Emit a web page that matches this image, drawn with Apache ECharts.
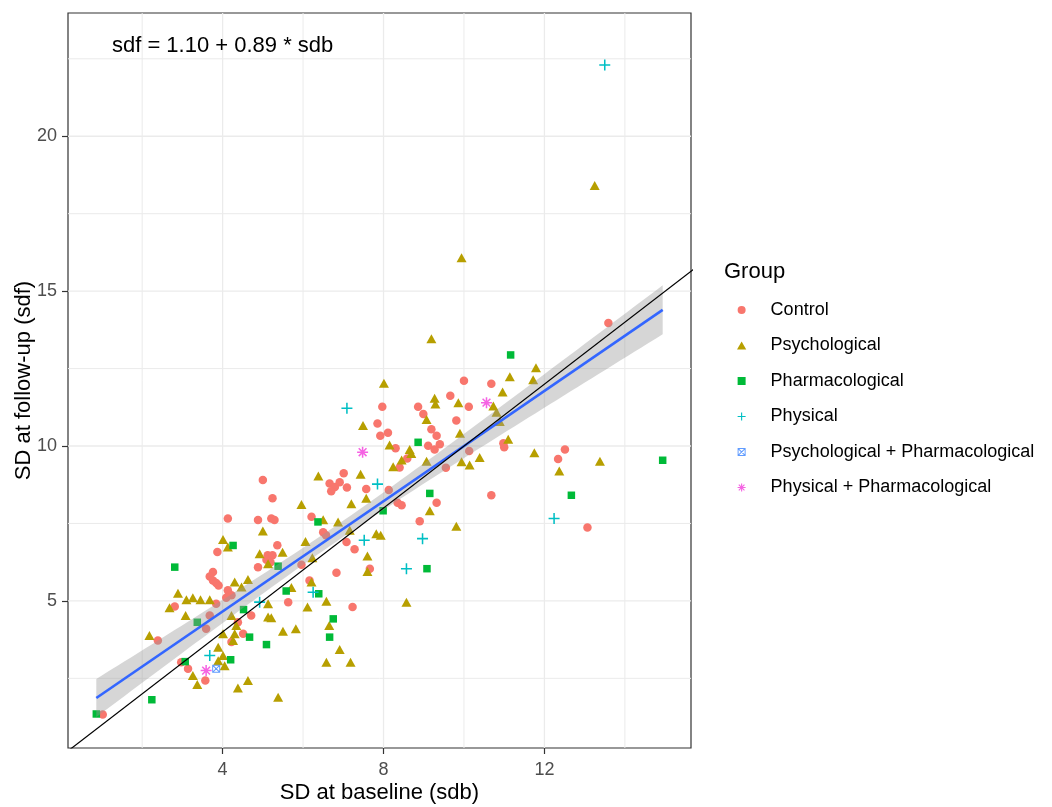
<!DOCTYPE html>
<html>
<head>
<meta charset="utf-8">
<style>
  html, body { margin: 0; padding: 0; background: #fff; }
  #chart { width: 1052px; height: 807px; }
</style>
<script src="https://cdn.jsdelivr.net/npm/echarts@6/dist/echarts.min.js"></script>
</head>
<body>
<div id="chart"></div>
<script>
// Each point: [SD at baseline (sdb), SD at follow-up (sdf)], one array per intervention group
const control = [
  [4.13,7.66],[4.88,7.61],[5.21,7.66],[5.29,7.61],[3.87,6.58],[4.88,6.09],
  [5.12,6.47],[5.24,6.47],[5.09,6.33],[5.19,6.25],
  [3.76,5.93],[3.68,5.79],[3.76,5.66],[3.84,5.58],[3.90,5.50],
  [4.13,5.34],[4.22,5.18],[4.09,5.10],
  [2.81,4.82],[3.84,4.91],[3.68,4.53],[3.59,4.10],[4.38,4.31],[4.71,4.53],[4.51,3.94],
  [4.22,3.67],[2.39,3.72],[2.97,3.02],[3.14,2.81],[3.57,2.43],[1.02,1.33],
  [5.24,8.31],[5.00,8.90],[5.36,6.80],[5.96,6.17],[6.21,7.72],
  [6.50,7.22],[6.57,7.12],
  [6.83,5.91],[7.08,6.90],[7.28,6.67],[7.66,6.04],[6.16,5.66],[5.63,4.96],[7.23,4.80],
  [8.35,8.17],[8.45,8.09],
  [8.90,7.57],[9.32,8.17],[10.00,12.11],[9.66,11.62],[10.12,11.27],[7.97,11.27],[8.86,11.27],
  [8.99,11.03],[7.85,10.73],[9.81,10.82],
  [7.92,10.33],[8.11,10.43],[9.19,10.54],[9.32,10.33],[9.40,10.06],[9.27,9.89],
  [9.11,10.01],[8.30,9.93],[8.59,9.60],[8.40,9.31],[10.13,9.84],[9.55,9.30],[7.01,9.12],
  [6.66,8.79],[6.79,8.68],[6.91,8.83],[6.70,8.54],
  [7.09,8.66],[7.57,8.61],[8.13,8.58],[13.59,13.97],[10.68,12.01],
  [10.98,10.09],[11.00,9.96],[12.51,9.89],[12.34,9.58],
  [10.68,8.41],[13.07,7.37]
];
const psychological = [
  [5.00,7.26],[4.01,6.98],[4.13,6.74],[4.92,6.52],[5.13,6.20],[4.30,5.61],[4.63,5.69],
  [4.47,5.45],[2.89,5.25],
  [3.10,5.04],[3.26,5.10],[3.45,5.04],[3.68,5.04],
  [2.68,4.78],[3.08,4.53],[5.13,4.91],[5.13,4.48],[5.21,4.46],[4.22,4.53],[4.34,4.21],
  [4.01,3.94],[4.30,3.94],[4.26,3.72],[2.18,3.88],[3.89,3.50],[4.01,3.24],[3.89,3.07],
  [4.05,2.91],[3.26,2.59],[3.37,2.30],[4.63,2.43],[4.38,2.19],[5.38,1.89],
  [5.96,8.11],[6.38,9.03],[6.50,7.62],[6.87,7.55],[5.49,6.57],[6.06,6.92],[6.23,6.39],
  [7.20,8.14],[7.16,7.28],[7.60,6.45],[7.60,5.95],[7.82,7.17],[7.93,7.12],[9.15,7.91],
  [9.81,7.41],
  [5.71,5.43],[6.21,5.61],[6.58,4.99],[6.11,4.80],[8.57,4.96],[5.50,4.02],[5.82,4.10],
  [6.65,4.21],[6.91,3.43],[6.58,3.02],[7.18,3.02],
  [9.19,13.46],[8.01,12.03],[9.27,11.54],[9.29,11.36],[9.86,11.40],[7.49,10.66],
  [9.07,10.86],[9.90,10.41],[8.15,10.03],[8.65,9.89],[8.69,9.76],[8.45,9.55],[8.24,9.33],
  [9.07,9.51],[9.94,9.49],[10.14,9.39],[10.39,9.63],[7.43,9.09],[7.57,8.31],
  [11.79,12.53],[11.72,12.14],[11.14,12.24],[10.96,11.74],[10.73,11.29],[10.81,11.09],
  [10.89,10.79],[11.10,10.22],[11.75,9.78],[12.37,9.19],[13.38,9.51],
  [9.94,16.08],[13.25,18.41]
];
const pharmacological = [
  [4.26,6.79],[2.81,6.09],[5.38,6.12],[4.52,4.72],[3.37,4.31],[4.67,3.83],[5.09,3.59],
  [3.07,3.04],[4.20,3.10],[2.24,1.81],[0.86,1.35],
  [6.37,7.55],[7.99,7.91],[5.58,5.32],[6.39,5.23],[6.75,4.42],[6.66,3.83],[9.08,6.04],
  [8.86,10.12],[9.15,8.47],[11.16,12.94],[12.67,8.41],[14.94,9.54]
];
const physical = [
  [13.50,22.30],[7.09,11.22],[7.85,8.77],[7.52,6.96],[8.97,7.01],[8.57,6.04],
  [6.25,5.28],[4.92,4.96],[3.68,3.24],[12.24,7.66]
];
const psychPharm = [[3.84,2.81]];
const physPharm = [[3.59,2.75],[7.48,9.80],[10.56,11.40]];

const groupNames = [
  'Control', 'Psychological', 'Pharmacological', 'Physical',
  'Psychological + Pharmacological', 'Physical + Pharmacological'
];
const groupData = [control, psychological, pharmacological, physical, psychPharm, physPharm];

// Axis ticks and grid lines
const xTickValues = [4, 8, 12];
const xMinorGrid = [2, 6, 10, 14];
const yTickValues = [5, 10, 15, 20];
const yMinorGrid = [2.5, 7.5, 12.5, 17.5, 22.5];

// Fitted regression: sdf = intercept + slope * sdb
const fitIntercept = 1.10;
const fitSlope = 0.89;
const annotationAt = [4, 22.9];

// ---------- styling ----------
const FONT = 'Liberation Sans, Arial, sans-serif';
const groupColors = ['#F8766D', '#B79F00', '#00BA38', '#00BFC4', '#619CFF', '#F564E3'];
const TRI = 'path://M50,0L100,86.6L0,86.6Z';
const SQUARE = 'path://M0,0H100V100H0Z';
const PLUS = 'path://M43,0H57V43H100V57H57V100H43V57H0V43H43Z';
const SQX = 'path://M0,0H100V100H0Z M12,12V88H88V12Z ' +
  'M0,0L8.5,0L100,91.5L100,100L91.5,100L0,8.5Z ' +
  'M100,0L100,8.5L8.5,100L0,100L0,91.5L91.5,0Z';
const AST = 'path://M43,0H57V43H100V57H57V100H43V57H0V43H43Z ' +
  'M19.59,9.69L90.31,80.41L80.41,90.31L9.69,19.59Z ' +
  'M80.41,9.69L90.31,19.59L19.59,90.31L9.69,80.41Z';
const groupSymbols = ['circle', TRI, SQUARE, PLUS, SQX, AST];
const groupSizes = [8.5, [10, 9], 7.5, 11, 8, 11];

// ---------- ranges (data range plus 5% padding on each side) ----------
const allPts = [].concat(...groupData);
const xs = allPts.map(p => p[0]);
const ys = allPts.map(p => p[1]);
const xLo = Math.min(...xs), xHi = Math.max(...xs);
const yLo = Math.min(...ys), yHi = Math.max(Math.max(...ys), annotationAt[1]);
const xPad = (xHi - xLo) * 0.05, yPad = (yHi - yLo) * 0.05;
const X_MIN = xLo - xPad, X_MAX = xHi + xPad;
const Y_MIN = yLo - yPad, Y_MAX = yHi + yPad;

// ---------- 95% confidence band of the fitted mean ----------
const fit = x => fitIntercept + fitSlope * x;
const n = allPts.length;
const xbar = xs.reduce((a, b) => a + b, 0) / n;
const sxx = xs.reduce((a, x) => a + (x - xbar) * (x - xbar), 0);
const rss = allPts.reduce((a, p) => a + Math.pow(p[1] - fit(p[0]), 2), 0);
const sigma = Math.sqrt(rss / (n - 2));
const tCrit = 1.97;
const halfWidth = x => tCrit * sigma * Math.sqrt(1 / n + (x - xbar) * (x - xbar) / sxx);
const bandX = [];
for (let i = 0; i <= 80; i++) bandX.push(xLo + (xHi - xLo) * i / 80);

function gridLines(values, dim, width) {
  return {
    type: 'custom', z: 1, silent: true,
    data: values.map(v => dim === 'x' ? [v, Y_MIN] : [X_MIN, v]),
    encode: { x: 0, y: 1 },
    renderItem: (params, api) => {
      const v = api.value(dim === 'x' ? 0 : 1);
      const p1 = dim === 'x' ? api.coord([v, Y_MIN]) : api.coord([X_MIN, v]);
      const p2 = dim === 'x' ? api.coord([v, Y_MAX]) : api.coord([X_MAX, v]);
      return {
        type: 'line',
        shape: { x1: p1[0], y1: p1[1], x2: p2[0], y2: p2[1] },
        style: { stroke: '#EBEBEB', lineWidth: width }
      };
    }
  };
}

const chart = echarts.init(document.getElementById('chart'), null, { renderer: 'canvas' });

const series = [
  gridLines(xMinorGrid, 'x', 1),
  gridLines(yMinorGrid, 'y', 1),
  gridLines(xTickValues, 'x', 1.3),
  gridLines(yTickValues, 'y', 1.3)
];

groupNames.forEach((name, i) => {
  series.push({
    name, type: 'scatter', z: 2,
    data: groupData[i],
    symbol: groupSymbols[i],
    symbolSize: groupSizes[i],
    itemStyle: { color: groupColors[i], opacity: 1 },
    emphasis: { disabled: true }
  });
});

// confidence band
series.push({
  type: 'custom', z: 3, silent: true,
  data: [[xLo, fit(xLo)]],
  encode: { x: 0, y: 1 },
  renderItem: (params, api) => {
    const upper = bandX.map(x => api.coord([x, fit(x) + halfWidth(x)]));
    const lower = bandX.map(x => api.coord([x, fit(x) - halfWidth(x)])).reverse();
    return {
      type: 'polygon',
      shape: { points: upper.concat(lower) },
      style: { fill: 'rgba(153,153,153,0.4)' }
    };
  }
});

// fitted line with its equation
series.push({
  type: 'line', z: 4, silent: true,
  data: [[xLo, fit(xLo)], [xHi, fit(xHi)]],
  symbol: 'none',
  lineStyle: { color: '#3366FF', width: 2.6 },
  markPoint: {
    silent: true,
    symbol: 'circle', symbolSize: 1,
    itemStyle: { color: 'rgba(0,0,0,0)' },
    label: {
      show: true, position: 'inside',
      formatter: 'sdf = ' + fitIntercept.toFixed(2) + ' + ' + fitSlope.toFixed(2) + ' * sdb',
      fontSize: 22, color: '#000', fontFamily: FONT
    },
    data: [{ coord: annotationAt }]
  }
});

// line of identity sdf = sdb
series.push({
  type: 'line', z: 5, silent: true, clip: true,
  data: [[0, 0], [30, 30]],
  symbol: 'none',
  lineStyle: { color: '#000', width: 1.2 }
});

chart.setOption({
  animation: false,
  backgroundColor: '#fff',
  title: {
    text: 'Group', left: 724, top: 261, padding: 0,
    textStyle: { fontSize: 22, fontWeight: 'normal', color: '#000', fontFamily: FONT, lineHeight: 22 }
  },
  legend: {
    orient: 'vertical', left: 737, top: 299, padding: 0,
    itemWidth: 48, itemHeight: 8, itemGap: 13.5,
    selectedMode: false,
    textStyle: { fontSize: 18, lineHeight: 22, color: '#000', fontFamily: FONT },
    data: groupNames.map((name, i) => ({ name, icon: groupSymbols[i] }))
  },
  grid: {
    left: 68, right: 361, top: 13, bottom: 59,
    containLabel: false, outerBoundsMode: 'none',
    show: true, borderColor: '#333333', borderWidth: 1.2, backgroundColor: '#fff'
  },
  xAxis: {
    type: 'value', min: X_MIN, max: X_MAX,
    axisLine: { show: false },
    axisTick: { show: true, length: 6, customValues: xTickValues, lineStyle: { color: '#333', width: 1.2 } },
    axisLabel: { customValues: xTickValues, margin: 13, fontSize: 18, color: '#4D4D4D', fontFamily: FONT },
    splitLine: { show: false },
    name: 'SD at baseline (sdb)', nameLocation: 'middle', nameGap: 34, nameMoveOverlap: false,
    nameTextStyle: { fontSize: 22, color: '#000', fontFamily: FONT }
  },
  yAxis: {
    type: 'value', min: Y_MIN, max: Y_MAX,
    axisLine: { show: false },
    axisTick: { show: true, length: 6, customValues: yTickValues, lineStyle: { color: '#333', width: 1.2 } },
    axisLabel: { customValues: yTickValues, margin: 11, fontSize: 18, color: '#4D4D4D', fontFamily: FONT },
    splitLine: { show: false },
    name: 'SD at follow-up (sdf)', nameLocation: 'middle', nameGap: 33, nameMoveOverlap: false,
    nameTextStyle: { fontSize: 22, color: '#000', fontFamily: FONT }
  },
  series
});
</script>
</body>
</html>
